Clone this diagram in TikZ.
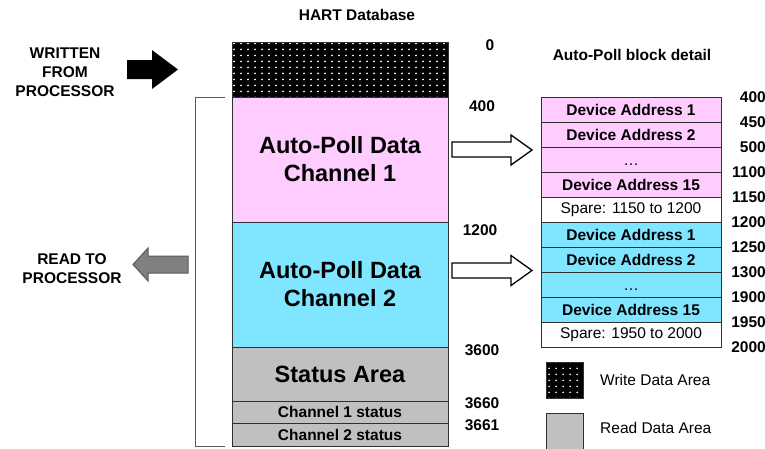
\documentclass[tikz,border=0pt]{standalone}
\usepackage{fontspec}
\setmainfont{Liberation Sans}
\usepackage{xcolor}
\usepackage{tikz}
\usetikzlibrary{patterns,positioning}
\definecolor{hbpinkc}{HTML}{FFCCFF}
\definecolor{hbcyanc}{HTML}{80E5FF}
\definecolor{hbgrayc}{HTML}{C0C0C0}
\definecolor{hbedge}{HTML}{303030}
\definecolor{hbarrowc}{HTML}{808080}
\pgfdeclarepatternformonly{hbdots}{\pgfqpoint{0pt}{0pt}}{\pgfqpoint{7pt}{6pt}}{\pgfqpoint{7pt}{6pt}}{\pgfpathcircle{\pgfqpoint{3.5pt}{3pt}}{1.1pt}\pgfusepath{fill}}
\tikzset{
hbmem/.style={rectangle,draw=hbedge,line width=1pt,inner sep=0pt,outer sep=0pt,minimum width=216pt,align=center},
hbwrite/.style={preaction={fill=black},pattern=hbdots,pattern color=white},
hbpink/.style={fill=hbpinkc},
hbcyan/.style={fill=hbcyanc},
hbgray/.style={fill=hbgrayc},
hbrow/.style={rectangle,draw=hbedge,line width=1pt,inner sep=0pt,outer sep=0pt,minimum width=180pt,minimum height=25pt},
hbbig/.style={font=\fontsize{23.5}{28}\selectfont\bfseries},
hbtext/.style={font=\fontsize{15.5}{19}\selectfont\bfseries},
hbplain/.style={font=\fontsize{15.5}{19}\selectfont},
hbaddr/.style={hbtext,anchor=east,inner sep=0pt},
hboff/.style={hbtext,inner sep=0pt},
hbhollow/.style={draw=black,line width=1.3pt,fill=white,line join=miter},
hbkey/.style={rectangle,draw=hbedge,line width=1pt,minimum width=37pt,minimum height=36pt,inner sep=0pt}
}
\begin{document}
\begin{tikzpicture}[
x=1pt,
y=-1pt
]
\useasboundingbox (0,0) rectangle (765,448);
% HART database column
\node[hbmem,hbwrite,minimum height=55pt] (write) at (340,69.5) {};
\node[hbmem,hbpink,hbbig,minimum height=125pt] (chone) at (340,159.5) {Auto-Poll Data\\Channel 1};
\node[hbmem,hbcyan,hbbig,minimum height=125pt] (chtwo) at (340,284.5) {Auto-Poll Data\\Channel 2};
\node[hbmem,hbgray,hbbig,minimum height=54pt] (status) at (340,374) {Status Area};
\node[hbmem,hbgray,hbtext,minimum height=22pt] (stone) at (340,412) {Channel 1 status};
\node[hbmem,hbgray,hbtext,minimum height=23pt] (sttwo) at (340,434.5) {Channel 2 status};
\node[hbtext] (title) at (357,15) {HART Database};
% offsets
\node[hboff] (offzero) at (490,45) {0};
\node[hboff] (offa) at (482,106) {400};
\node[hboff] (offb) at (480,230) {1200};
\node[hboff] (offc) at (482,350) {3600};
\node[hboff] (offd) at (482,403) {3660};
\node[hboff] (offe) at (482,425) {3661};
% processor side
\node[hbtext,align=center] (written) at (65,72) {WRITTEN\\FROM\\PROCESSOR};
\node[hbtext,align=center] (readto) at (72,268.5) {READ TO\\PROCESSOR};
\fill[black] (127,60) -- (152,60) -- (152,50) -- (178,69.5) -- (152,89) -- (152,79) -- (127,79) -- cycle;
\draw[fill=hbarrowc,draw=hbedge!80,line width=1pt,line join=miter] (188,256) -- (148,256) -- (148,248) -- (133,264.5) -- (148,281) -- (148,273) -- (188,273) -- cycle;
\coordinate (brtop) at (225,97);
\coordinate (brbot) at (225,446);
\draw[draw=hbedge!80,line width=1pt] (brtop) -- (195,97) -- (195,446) -- (brbot);
% block detail
\node[hbtext] (detail) at (632,55) {Auto-Poll block detail};
\node[hbrow,hbpink,hbtext] (pa) at (631,109.5) {Device Address 1};
\node[hbrow,hbpink,hbtext] (pb) at (631,134.5) {Device Address 2};
\node[hbrow,hbpink,hbplain] (pc) at (631,159.5) {\smash{\raisebox{-6pt}{…}}};
\node[hbrow,hbpink,hbtext] (pd) at (631,184.5) {Device Address 15};
\node[hbrow,fill=white,hbplain] (pe) at (631,209.5) {Spare: 1150 to 1200};
\node[hbrow,hbcyan,hbtext] (ca) at (631,234.5) {Device Address 1};
\node[hbrow,hbcyan,hbtext] (cb) at (631,259.5) {Device Address 2};
\node[hbrow,hbcyan,hbplain] (cc) at (631,284.5) {\smash{\raisebox{-6pt}{…}}};
\node[hbrow,hbcyan,hbtext] (cd) at (631,309.5) {Device Address 15};
\node[hbrow,fill=white,hbplain] (ce) at (631,334.5) {Spare: 1950 to 2000};
\foreach \addr [count=\i from 0] in {400,450,500,1100,1150,1200,1250,1300,1900,1950,2000}
  \node[hbaddr] (addr\i) at (766,97+25*\i) {\addr};
\draw[hbhollow] (452,142) -- (511,142) -- (511,135) -- (532,150) -- (511,165) -- (511,157) -- (452,157) -- cycle;
\draw[hbhollow] (452,263) -- (511,263) -- (511,255.5) -- (532,270.5) -- (511,285.5) -- (511,278) -- (452,278) -- cycle;
% legend
\node[hbkey,hbwrite] (keywrite) at (564.5,380) {};
\node[hbplain,anchor=west,inner sep=0pt] (keywritetext) at (600,380) {Write Data Area};
\node[hbkey,hbgray] (keyread) at (564.5,431) {};
\node[hbplain,anchor=west,inner sep=0pt] (keyreadtext) at (600,428) {Read Data Area};
\end{tikzpicture}
\end{document}
